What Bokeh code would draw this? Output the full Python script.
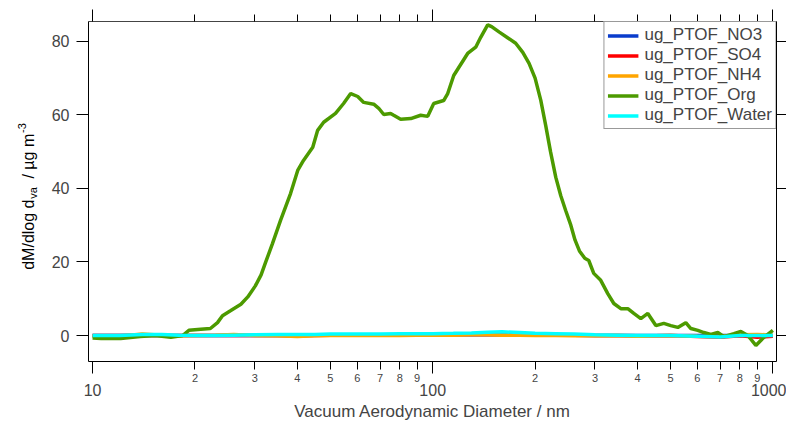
import math
from bokeh.plotting import figure
from bokeh.layouts import row
from bokeh.models import (LogAxis, LinearAxis, FixedTicker, PrintfTickFormatter,
                          Range1d, Legend, LegendItem, Grid)
from bokeh.core.properties import value
from bokeh.embed import file_html
from bokeh.resources import INLINE

# ---------------- data ----------------
org_diam = [10.0, 10.6, 12.1, 13.8, 15.3, 17.0, 18.4, 19.2, 20.8, 22.2, 23.3, 24.1,
            25.5, 27.3, 28.6, 30.1, 31.3, 32.3, 33.8, 35.7, 38.2, 40.1, 41.7, 44.4,
            45.9, 47.8, 51.8, 54.7, 57.4, 60.2, 62.7, 67.1, 69.4, 71.8, 75.2, 76.8,
            80.5, 86.2, 92.2, 96.7, 100.7, 107.7, 110.7, 115.3, 126.7, 133.8, 138.4,
            145.1, 149.0, 157.0, 166.0, 175.4, 184.0, 192.0, 200.0, 207.8, 215.0,
            222.0, 230.1, 238.0, 246.0, 254.7, 262.0, 270.0, 280.0, 287.6, 297.5,
            311.9, 327.1, 340.8, 357.3, 374.6, 390.2, 409.1, 429.0, 452.9, 478.0,
            501.2, 525.5, 554.7, 574.0, 601.8, 626.7, 657.2, 689.1, 717.6, 768.1,
            805.2, 844.3, 891.3, 941.0, 1000.0]
org_val = [-0.7, -0.8, -0.8, -0.3, 0.0, -0.5, 0.0, 1.4, 1.7, 1.9, 3.5, 5.4,
           6.8, 8.5, 10.5, 13.5, 16.5, 20.0, 25.0, 31.3, 38.6, 44.9, 47.6, 51.2,
           55.8, 58.0, 60.4, 63.1, 65.8, 65.0, 63.4, 62.9, 61.8, 60.1, 60.4, 59.9,
           58.8, 59.0, 59.9, 59.6, 63.1, 63.9, 65.8, 70.7, 76.7, 78.4, 81.1,
           84.5, 84.0, 82.5, 81.0, 79.5, 77.0, 74.0, 70.0, 64.0, 57.0,
           50.0, 43.0, 38.0, 34.0, 30.0, 26.0, 23.0, 21.0, 20.4, 16.9,
           15.0, 11.4, 8.7, 7.3, 7.3, 6.0, 4.6, 6.0, 2.7, 3.3,
           2.7, 2.2, 3.5, 1.9, 1.4, 0.8, 0.3, 0.8, -0.3, 0.5,
           1.1, 0.0, -2.7, -0.5, 1.4]

base_diam = [10, 12, 14, 16, 18, 20, 23, 26, 30, 35, 40, 45, 50, 60, 70, 80, 90,
             100, 115, 130, 145, 160, 180, 200, 230, 260, 300, 350, 400, 450, 500,
             600, 700, 800, 900, 1000]
no3_val = [0.0, 0.0, 0.1, 0.0, 0.0, 0.0, 0.0, 0.1, 0.0, 0.0, 0.0, 0.1, 0.1, 0.1, 0.1,
           0.1, 0.1, 0.1, 0.2, 0.2, 0.2, 0.2, 0.2, 0.1, 0.1, 0.1, 0.0, 0.0, 0.0,
           0.0, 0.0, 0.0, 0.0, 0.0, 0.0, 0.0]
so4_val = [0.0, 0.0, 0.1, 0.0, 0.0, 0.0, 0.0, 0.0, 0.0, 0.0, -0.1, 0.0, 0.1, 0.1, 0.1,
           0.1, 0.2, 0.2, 0.3, 0.3, 0.3, 0.3, 0.2, 0.2, 0.1, 0.1, 0.0, 0.0, -0.1,
           -0.1, 0.0, -0.3, -0.5, -0.1, -0.5, -0.2]
nh4_val = [-0.2, -0.2, 0.4, 0.1, -0.1, 0.0, 0.1, 0.3, 0.0, -0.1, -0.3, -0.1, 0.0, 0.0, 0.0,
           0.0, 0.1, 0.1, 0.1, 0.2, 0.2, 0.1, 0.1, 0.0, 0.0, -0.1, -0.1, 0.0, -0.2,
           -0.1, 0.0, -0.2, -0.3, 0.2, 0.3, 0.1]
water_val = [0.0, 0.0, 0.3, 0.3, 0.1, 0.0, 0.0, 0.1, 0.2, 0.3, 0.3, 0.3, 0.4, 0.4, 0.4,
             0.5, 0.5, 0.5, 0.6, 0.7, 0.9, 1.0, 0.8, 0.6, 0.5, 0.4, 0.2, 0.1, 0.0,
             0.0, 0.0, -0.2, -0.4, 0.0, 0.0, 0.0]

x_major = [10, 100, 1000]
x_major_labels = ["10", "100", "1000"]
x_minor = [20, 30, 40, 50, 60, 70, 80, 90, 200, 300, 400, 500, 600, 700, 800, 900]
x_minor_labels = ["2", "3", "4", "5", "6", "7", "8", "9"] * 2
y_ticks = [0, 20, 40, 60, 80]

series_names = ["ug_PTOF_NO3", "ug_PTOF_SO4", "ug_PTOF_NH4", "ug_PTOF_Org", "ug_PTOF_Water"]
series_colors = ["#0a3ccc", "#ff0000", "#ffa500", "#4c9a00", "#00ffff"]

y_title_parts = ["dM/dlog d", "va", "/ \u00b5g m", "-3"]

FONT = "Liberation Sans"
W, H = 786, 424
TITLE_W = 44

# ---------------- main figure ----------------
p = figure(width=W - TITLE_W, height=H, x_axis_type="log", title=None,
           x_range=Range1d(9.73, 1025), y_range=Range1d(-7.07, 85.4),
           x_axis_location=None, y_axis_location=None,
           output_backend="svg", toolbar_location=None,
           min_border_left=88 - TITLE_W, min_border_right=10, min_border_top=21,
           min_border_bottom=63, background_fill_color="white",
           border_fill_color="white")
p.outline_line_color = None
p.center = [r for r in p.center if not isinstance(r, Grid)]

# bottom axis with small minor labels
ax_minor = LogAxis(ticker=FixedTicker(ticks=x_minor, minor_ticks=x_major),
                   formatter=PrintfTickFormatter(format="%d"))
ax_minor.major_label_overrides = {t: s for t, s in zip(x_minor, x_minor_labels)}
ax_minor.major_tick_out = 8
ax_minor.major_tick_in = 0
ax_minor.minor_tick_out = 12
ax_minor.minor_tick_in = 0
ax_minor.major_label_text_font = FONT
ax_minor.major_label_text_font_size = "11px"
ax_minor.major_label_standoff = 0
ax_minor.axis_line_color = "black"
ax_minor.major_tick_line_color = "black"
ax_minor.minor_tick_line_color = "black"
p.add_layout(ax_minor, "below")

# bottom axis: decade labels + title
ax_major = LogAxis(ticker=FixedTicker(ticks=x_major),
                   formatter=PrintfTickFormatter(format="%d"))
ax_major.major_label_overrides = {t: s for t, s in zip(x_major, x_major_labels)}
ax_major.axis_line_color = None
ax_major.major_tick_line_color = None
ax_major.minor_tick_line_color = None
ax_major.major_tick_out = 0
ax_major.major_tick_in = 0
ax_major.major_label_text_font = FONT
ax_major.major_label_text_font_size = "16px"
ax_major.major_label_standoff = -1
ax_major.axis_label = "Vacuum Aerodynamic Diameter / nm"
ax_major.axis_label_text_font = FONT
ax_major.axis_label_text_font_size = "17px"
ax_major.axis_label_text_font_style = "normal"
ax_major.axis_label_standoff = 3
p.add_layout(ax_major, "below")

# top axis (ticks only)
ax_top = LogAxis(ticker=FixedTicker(ticks=x_major, minor_ticks=x_minor),
                 formatter=PrintfTickFormatter(format="%d"))
ax_top.major_label_overrides = {t: "" for t in x_major}
ax_top.major_label_text_font_size = "1px"
ax_top.major_label_standoff = 0
ax_top.major_tick_out = 12
ax_top.major_tick_in = 0
ax_top.minor_tick_out = 7
ax_top.minor_tick_in = 0
ax_top.axis_line_color = "#444444"
p.add_layout(ax_top, "above")

# left axis
ax_left = LinearAxis(ticker=FixedTicker(ticks=y_ticks, minor_ticks=[]))
ax_left.major_tick_out = 12
ax_left.major_tick_in = 0
ax_left.minor_tick_line_color = None
ax_left.major_label_text_font = FONT
ax_left.major_label_text_font_size = "16px"
ax_left.major_label_standoff = 7
ax_left.axis_line_color = "black"
p.add_layout(ax_left, "left")

# right axis (ticks only)
ax_right = LinearAxis(ticker=FixedTicker(ticks=y_ticks, minor_ticks=[]))
ax_right.major_label_overrides = {t: "" for t in y_ticks}
ax_right.major_label_text_font_size = "1px"
ax_right.major_label_standoff = 0
ax_right.major_tick_out = 10
ax_right.major_tick_in = 0
ax_right.minor_tick_line_color = None
ax_right.axis_line_color = "black"
p.add_layout(ax_right, "right")

# ---------------- lines ----------------
renderers = []
vals = [no3_val, so4_val, nh4_val, None, water_val]
for name, color, v in zip(series_names, series_colors, vals):
    if v is None:
        r = p.line(org_diam, org_val, line_color=color, line_width=3.5)
    else:
        r = p.line(base_diam, v, line_color=color, line_width=3.5)
    renderers.append(r)

legend = Legend(items=[LegendItem(label=n, renderers=[r]) for n, r in zip(series_names, renderers)],
                location="top_right", orientation="vertical",
                label_text_font=FONT, label_text_font_size="17px",
                glyph_width=31, glyph_height=19, label_height=19, label_standoff=6,
                padding=3, spacing=0, margin=0,
                border_line_color="#333333", border_line_width=1,
                background_fill_color="white", background_fill_alpha=1.0)
p.add_layout(legend)

# ---------------- y-axis title (narrow companion figure, 1 data unit = 1 px) ----------------
t = figure(width=TITLE_W, height=H, x_range=Range1d(0, TITLE_W), y_range=Range1d(0, H),
           title=None, x_axis_location=None, y_axis_location=None, output_backend="svg",
           toolbar_location=None, min_border=0, background_fill_color="white",
           border_fill_color="white")
t.outline_line_color = None
t.center = [r for r in t.center if not isinstance(r, Grid)]

base_x = 28                 # baseline x (pixels from left)
joint_1 = H - 222           # end of "dM/dlog d" / start of subscript
joint_2 = H - 140           # end of "/ µg m" / start of superscript
main_fs, small_fs = 16, 11
# (anchor y, alignment, baseline shift, font size)
layout_parts = [(joint_1, "right", 0, main_fs), (joint_1 + 1, "left", 4, small_fs),
                (joint_2, "right", 0, main_fs), (joint_2 + 1, "left", -7, small_fs)]
for txt, (ay, align, shift, fs) in zip(y_title_parts, layout_parts):
    t.text(x=[base_x + shift], y=[ay], text=[txt], angle=math.pi / 2,
           text_align=align, text_baseline="alphabetic",
           text_font=value(FONT), text_font_size=f"{fs}px", text_color="black")

out = row(t, p)
open("out.html", "w").write(file_html(out, INLINE))
